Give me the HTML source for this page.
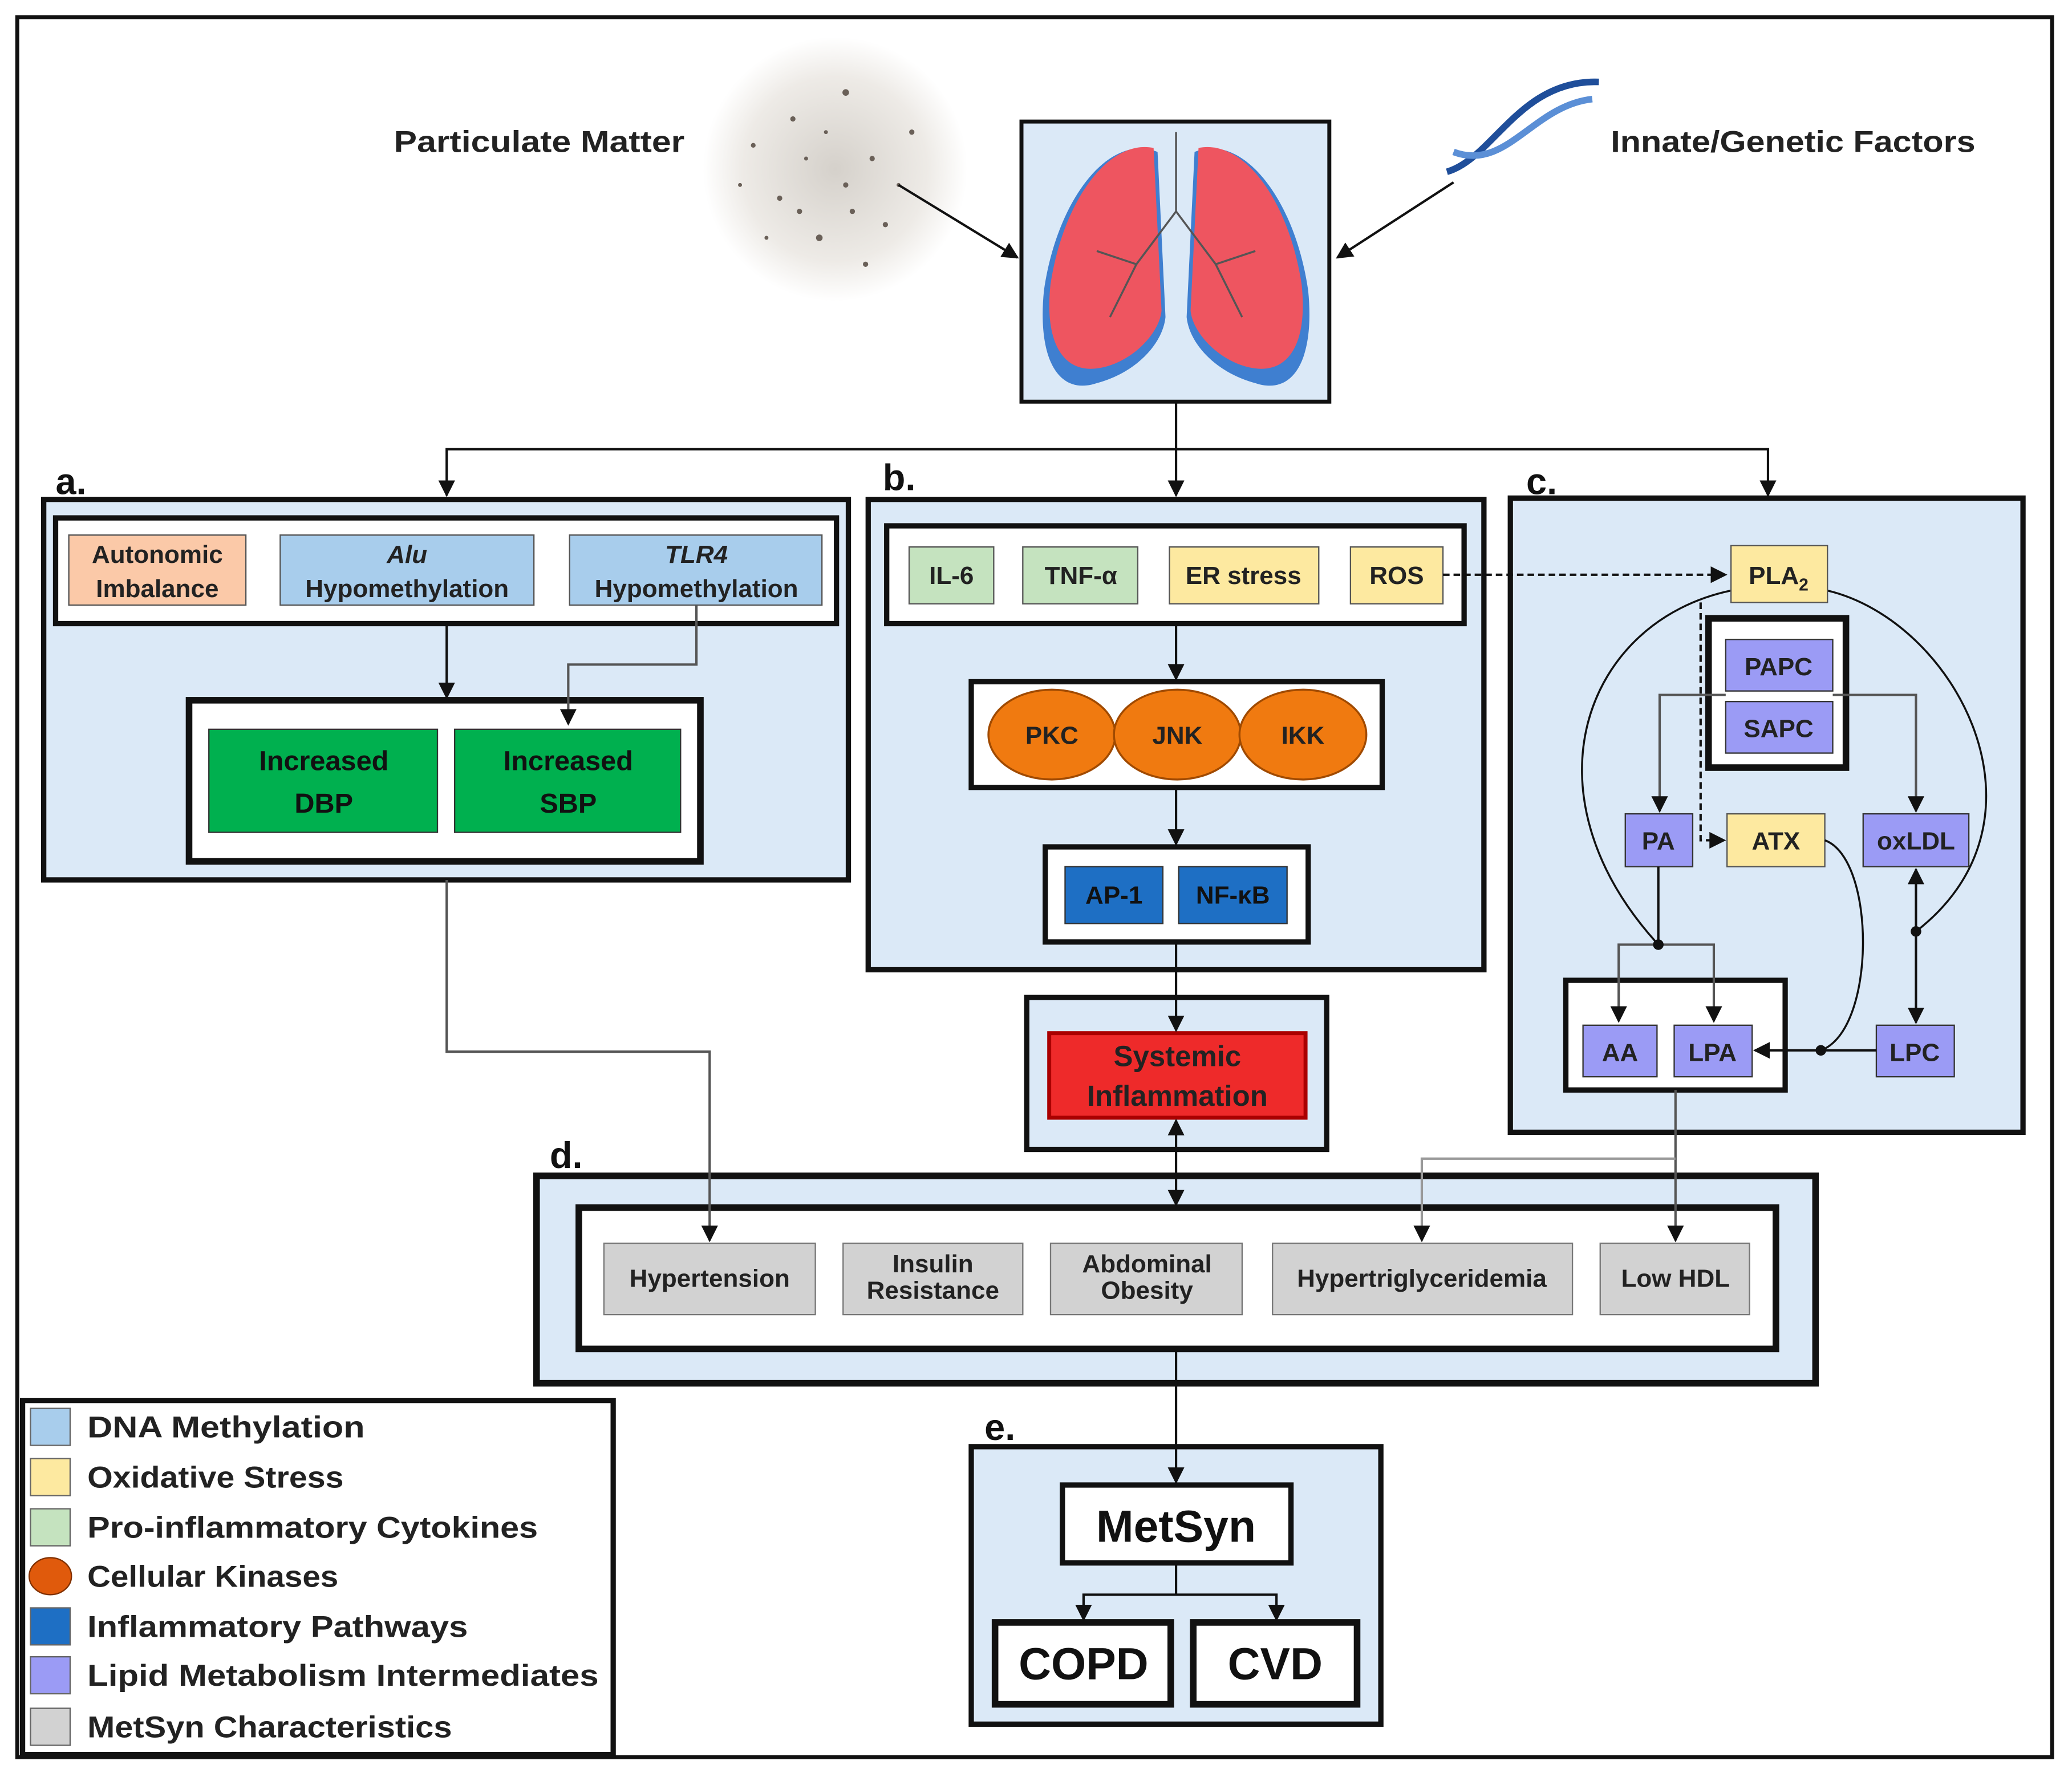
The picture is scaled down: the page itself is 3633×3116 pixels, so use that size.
<!DOCTYPE html>
<html><head><meta charset="utf-8"><style>
html,body{margin:0;padding:0;background:#fff;}
svg{display:block;}
text{font-family:"Liberation Sans",sans-serif;}
</style></head><body>
<svg width="3633" height="3116" viewBox="0 0 1568 1345" xmlns="http://www.w3.org/2000/svg">
<defs>
<marker id="ar" viewBox="0 0 10 10" refX="9" refY="5" markerWidth="7" markerHeight="7" orient="auto-start-reverse"><path d="M0,0 L10,5 L0,10 z" fill="#111"/></marker>
<radialGradient id="pm" cx="50%" cy="50%" r="50%"><stop offset="0" stop-color="#b9b2a8"/><stop offset="0.7" stop-color="#e2ddd6"/><stop offset="1" stop-color="#fff"/></radialGradient>
</defs>
<rect x="0" y="0" width="1568" height="1345" fill="#fff"/>
<rect x="13" y="13" width="1540" height="1317" fill="#fff" stroke="#111" stroke-width="3"/>

<circle cx="632" cy="128" r="100" fill="url(#pm)" opacity="0.6"/>
<g fill="#6a6058">
<circle cx="600" cy="90" r="2"/><circle cx="640" cy="70" r="2.5"/><circle cx="660" cy="120" r="2"/><circle cx="590" cy="150" r="2"/><circle cx="620" cy="180" r="2.5"/><circle cx="670" cy="170" r="2"/><circle cx="570" cy="110" r="1.8"/><circle cx="690" cy="100" r="2"/><circle cx="640" cy="140" r="2"/><circle cx="610" cy="120" r="1.5"/><circle cx="655" cy="200" r="2"/><circle cx="580" cy="180" r="1.5"/>
<circle cx="625" cy="100" r="1.5"/><circle cx="605" cy="160" r="2"/><circle cx="680" cy="140" r="1.5"/><circle cx="645" cy="160" r="2"/><circle cx="560" cy="140" r="1.5"/>
</g>
<text x="298" y="115" font-size="23" font-weight="bold" fill="#222" textLength="220" lengthAdjust="spacingAndGlyphs">Particulate Matter</text>
<text x="1219" y="115" font-size="23" font-weight="bold" fill="#222" textLength="276" lengthAdjust="spacingAndGlyphs">Innate/Genetic Factors</text>
<g stroke="#1f4e9a" stroke-width="5" fill="none"><path d="M1095,130 C1130,120 1150,60 1210,62"/><path d="M1100,115 C1140,130 1160,80 1205,75" stroke="#5b8fd6"/></g>
<line x1="680" y1="140" x2="770" y2="195" stroke="#111" stroke-width="1.8" marker-end="url(#ar)"/>
<line x1="1100" y1="138" x2="1012" y2="195" stroke="#111" stroke-width="1.8" marker-end="url(#ar)"/>

<rect x="773" y="92" width="233" height="212" fill="#dbe9f7" stroke="#111" stroke-width="3"/>
<path d="M876,115 C840,100 800,150 790,220 C785,270 800,300 830,290 C860,282 880,260 882,240 Z" fill="#3f7fd0"/>
<path d="M873,112 C840,105 805,150 795,215 C790,260 805,285 835,278 C860,272 878,250 879,235 Z" fill="#ee5560"/>
<path d="M904,115 C940,100 980,150 990,220 C995,270 980,300 950,290 C920,282 900,260 898,240 Z" fill="#3f7fd0"/>
<path d="M907,112 C940,105 975,150 985,215 C990,260 975,285 945,278 C920,272 902,250 901,235 Z" fill="#ee5560"/>
<g stroke="#555" stroke-width="1.5" fill="none"><path d="M890,100 V160 M890,160 L860,200 L840,240 M860,200 L830,190 M890,160 L920,200 L940,240 M920,200 L950,190"/></g>

<g stroke="#111" stroke-width="1.8" fill="none">
<line x1="890" y1="304" x2="890" y2="375" marker-end="url(#ar)"/>
<polyline points="338,375 338,340 1338,340 1338,375" marker-start="url(#ar)" marker-end="url(#ar)"/>
</g>

<g font-size="28" font-weight="bold" fill="#111">
<text x="42" y="374">a.</text><text x="668" y="371">b.</text><text x="1155" y="374">c.</text><text x="416" y="884">d.</text><text x="745" y="1090">e.</text>
</g>

<!-- panel a -->
<rect x="33" y="378" width="609" height="288" fill="#dbe9f7" stroke="#111" stroke-width="4"/>
<rect x="42" y="392" width="591" height="80" fill="#fff" stroke="#111" stroke-width="4"/>
<rect x="52" y="405" width="134" height="53" fill="#fbc9a8" stroke="#555"/>
<rect x="212" y="405" width="192" height="53" fill="#a8cdec" stroke="#555"/>
<rect x="431" y="405" width="191" height="53" fill="#a8cdec" stroke="#555"/>
<g font-size="19" fill="#222" text-anchor="middle" font-weight="600">
<text x="119" y="426">Autonomic</text><text x="119" y="452">Imbalance</text>
<text x="308" y="426" font-style="italic">Alu</text><text x="308" y="452">Hypomethylation</text>
<text x="527" y="426" font-style="italic">TLR4</text><text x="527" y="452">Hypomethylation</text>
</g>
<rect x="143" y="530" width="387" height="122" fill="#fff" stroke="#111" stroke-width="5"/>
<rect x="158" y="552" width="173" height="78" fill="#00b04f" stroke="#333"/>
<rect x="344" y="552" width="171" height="78" fill="#00b04f" stroke="#333"/>
<g font-size="21" fill="#111" text-anchor="middle" font-weight="600">
<text x="245" y="583">Increased</text><text x="245" y="615">DBP</text>
<text x="430" y="583">Increased</text><text x="430" y="615">SBP</text>
</g>

<!-- panel b -->
<rect x="657" y="378" width="466" height="356" fill="#dbe9f7" stroke="#111" stroke-width="4"/>
<rect x="671" y="398" width="437" height="74" fill="#fff" stroke="#111" stroke-width="4"/>
<rect x="688" y="414" width="64" height="43" fill="#c5e3bf" stroke="#555"/>
<rect x="774" y="414" width="87" height="43" fill="#c5e3bf" stroke="#555"/>
<rect x="885" y="414" width="113" height="43" fill="#fde9a0" stroke="#555"/>
<rect x="1022" y="414" width="70" height="43" fill="#fde9a0" stroke="#555"/>
<g font-size="19" fill="#222" text-anchor="middle" font-weight="600">
<text x="720" y="442">IL-6</text><text x="818" y="442">TNF-α</text><text x="941" y="442">ER stress</text><text x="1057" y="442">ROS</text>
</g>
<rect x="735" y="516" width="311" height="80" fill="#fff" stroke="#111" stroke-width="4"/>
<g fill="#f07a10" stroke="#a04a00" stroke-width="1.5">
<ellipse cx="796" cy="556" rx="48" ry="34"/><ellipse cx="891" cy="556" rx="48" ry="34"/><ellipse cx="986" cy="556" rx="48" ry="34"/>
</g>
<g font-size="19" fill="#222" text-anchor="middle" font-weight="600"><text x="796" y="563">PKC</text><text x="891" y="563">JNK</text><text x="986" y="563">IKK</text></g>
<rect x="791" y="641" width="199" height="72" fill="#fff" stroke="#111" stroke-width="4"/>
<rect x="806" y="656" width="74" height="43" fill="#1e6fc4" stroke="#333"/>
<rect x="892" y="656" width="82" height="43" fill="#1e6fc4" stroke="#333"/>
<g font-size="19" fill="#111" text-anchor="middle" font-weight="600"><text x="843" y="684">AP-1</text><text x="933" y="684">NF-κB</text></g>

<!-- systemic -->
<rect x="777" y="755" width="227" height="115" fill="#dbe9f7" stroke="#111" stroke-width="4"/>
<rect x="794" y="782" width="194" height="64" fill="#ee2a2a" stroke="#a00" stroke-width="3"/>
<g font-size="22" fill="#222" text-anchor="middle" font-weight="600"><text x="891" y="807">Systemic</text><text x="891" y="837">Inflammation</text></g>

<!-- panel c -->
<rect x="1143" y="377" width="388" height="480" fill="#dbe9f7" stroke="#111" stroke-width="4"/>
<g stroke="#111" stroke-width="1.5" fill="none">
<path d="M1310,447 C1200,470 1150,600 1255,715"/>
<path d="M1383,447 C1480,470 1560,620 1450,705"/>
</g>
<rect x="1310" y="413" width="73" height="43" fill="#fde9a0" stroke="#555"/>
<text x="1346" y="442" font-size="19" fill="#222" text-anchor="middle" font-weight="600">PLA<tspan font-size="13" dy="5">2</tspan></text>
<rect x="1293" y="468" width="104" height="113" fill="#fff" stroke="#111" stroke-width="5"/>
<rect x="1306" y="484" width="81" height="39" fill="#9b9bf5" stroke="#333"/>
<rect x="1306" y="531" width="81" height="39" fill="#9b9bf5" stroke="#333"/>
<rect x="1230" y="616" width="51" height="40" fill="#9b9bf5" stroke="#333"/>
<rect x="1307" y="616" width="74" height="40" fill="#fde9a0" stroke="#555"/>
<rect x="1410" y="616" width="80" height="40" fill="#9b9bf5" stroke="#333"/>
<rect x="1185" y="742" width="166" height="83" fill="#fff" stroke="#111" stroke-width="4"/>
<rect x="1198" y="776" width="56" height="39" fill="#9b9bf5" stroke="#333"/>
<rect x="1267" y="776" width="59" height="39" fill="#9b9bf5" stroke="#333"/>
<rect x="1420" y="776" width="59" height="39" fill="#9b9bf5" stroke="#333"/>
<g font-size="19" fill="#222" text-anchor="middle" font-weight="600">
<text x="1346" y="511">PAPC</text><text x="1346" y="558">SAPC</text>
<text x="1255" y="643">PA</text><text x="1344" y="643">ATX</text><text x="1450" y="643">oxLDL</text>
<text x="1226" y="803">AA</text><text x="1296" y="803">LPA</text><text x="1449" y="803">LPC</text>
</g>

<!-- panel d -->
<rect x="406" y="890" width="968" height="157" fill="#dbe9f7" stroke="#111" stroke-width="5"/>
<rect x="438" y="914" width="906" height="107" fill="#fff" stroke="#111" stroke-width="5"/>
<g fill="#d2d2d2" stroke="#777">
<rect x="457" y="941" width="160" height="54"/><rect x="638" y="941" width="136" height="54"/><rect x="795" y="941" width="145" height="54"/><rect x="963" y="941" width="227" height="54"/><rect x="1211" y="941" width="113" height="54"/>
</g>
<g font-size="19" fill="#222" text-anchor="middle" font-weight="600">
<text x="537" y="974">Hypertension</text>
<text x="706" y="963">Insulin</text><text x="706" y="983">Resistance</text>
<text x="868" y="963">Abdominal</text><text x="868" y="983">Obesity</text>
<text x="1076" y="974">Hypertriglyceridemia</text><text x="1268" y="974">Low HDL</text>
</g>

<!-- panel e -->
<rect x="735" y="1095" width="310" height="210" fill="#dbe9f7" stroke="#111" stroke-width="4"/>
<rect x="804" y="1124" width="173" height="59" fill="#fff" stroke="#111" stroke-width="4"/>
<text x="890" y="1167" font-size="34" fill="#111" text-anchor="middle" font-weight="600">MetSyn</text>
<rect x="753" y="1228" width="133" height="62" fill="#fff" stroke="#111" stroke-width="5"/>
<rect x="903" y="1228" width="124" height="62" fill="#fff" stroke="#111" stroke-width="5"/>
<g font-size="34" fill="#111" text-anchor="middle" font-weight="600"><text x="820" y="1271">COPD</text><text x="965" y="1271">CVD</text></g>

<!-- connectors on top -->
<g stroke="#111" stroke-width="1.8" fill="none">
<line x1="338" y1="472" x2="338" y2="528" marker-end="url(#ar)"/>
<polyline points="527,458 527,503 430,503 430,548" stroke="#555" marker-end="url(#ar)"/>
<line x1="890" y1="472" x2="890" y2="514" marker-end="url(#ar)"/>
<line x1="890" y1="596" x2="890" y2="639" marker-end="url(#ar)"/>
<line x1="890" y1="713" x2="890" y2="780" marker-end="url(#ar)"/>
<line x1="890" y1="848" x2="890" y2="912" marker-start="url(#ar)" marker-end="url(#ar)"/>
<line x1="1092" y1="435" x2="1306" y2="435" stroke-dasharray="5,3" marker-end="url(#ar)"/>
<polyline points="1306,526 1256,526 1256,614" stroke="#555" marker-end="url(#ar)"/>
<polyline points="1387,526 1450,526 1450,614" stroke="#555" marker-end="url(#ar)"/>
<polyline points="1287,456 1287,636 1305,636" stroke-dasharray="5,3" marker-end="url(#ar)"/>
<line x1="1255" y1="656" x2="1255" y2="715"/>
<polyline points="1255,715 1225,715 1225,773" stroke="#555" marker-end="url(#ar)"/>
<polyline points="1255,715 1297,715 1297,773" stroke="#555" marker-end="url(#ar)"/>
<path d="M1381,636 C1420,650 1420,780 1378,795" stroke-width="1.5"/>
<line x1="1450" y1="658" x2="1450" y2="774" marker-start="url(#ar)" marker-end="url(#ar)"/>
<line x1="1420" y1="795" x2="1328" y2="795" marker-end="url(#ar)"/>
<polyline points="338,666 338,796 537,796 537,939" stroke="#555" marker-end="url(#ar)"/>
<line x1="1268" y1="825" x2="1268" y2="939" stroke="#555" marker-end="url(#ar)"/>
<polyline points="1268,877 1076,877 1076,939" stroke="#999" marker-end="url(#ar)"/>
<line x1="890" y1="1021" x2="890" y2="1122" marker-end="url(#ar)"/>
<line x1="890" y1="1183" x2="890" y2="1207"/>
<polyline points="820,1226 820,1207 966,1207 966,1226" marker-start="url(#ar)" marker-end="url(#ar)"/>
</g>
<circle cx="1255" cy="715" r="4" fill="#111"/><circle cx="1450" cy="705" r="4" fill="#111"/><circle cx="1378" cy="795" r="4" fill="#111"/>

<!-- legend -->
<rect x="17" y="1060" width="447" height="268" fill="#fff" stroke="#111" stroke-width="4"/>
<g stroke="#666">
<rect x="23" y="1066" width="30" height="28" fill="#a8cdec"/>
<rect x="23" y="1104" width="30" height="28" fill="#fde9a0"/>
<rect x="23" y="1142" width="30" height="28" fill="#c5e3bf"/>
<ellipse cx="38" cy="1193" rx="16" ry="14" fill="#e05a0c" stroke="#803000"/>
<rect x="23" y="1217" width="30" height="28" fill="#1e6fc4"/>
<rect x="23" y="1254" width="30" height="28" fill="#9b9bf5"/>
<rect x="23" y="1293" width="30" height="28" fill="#d2d2d2"/>
</g>
<g font-size="23" font-weight="bold" fill="#222">
<text x="66" y="1088" textLength="210" lengthAdjust="spacingAndGlyphs">DNA Methylation</text>
<text x="66" y="1126" textLength="194" lengthAdjust="spacingAndGlyphs">Oxidative Stress</text>
<text x="66" y="1164" textLength="341" lengthAdjust="spacingAndGlyphs">Pro-inflammatory Cytokines</text>
<text x="66" y="1201" textLength="190" lengthAdjust="spacingAndGlyphs">Cellular Kinases</text>
<text x="66" y="1239" textLength="288" lengthAdjust="spacingAndGlyphs">Inflammatory Pathways</text>
<text x="66" y="1276" textLength="387" lengthAdjust="spacingAndGlyphs">Lipid Metabolism Intermediates</text>
<text x="66" y="1315" textLength="276" lengthAdjust="spacingAndGlyphs">MetSyn Characteristics</text>
</g>
</svg>
</body></html>
